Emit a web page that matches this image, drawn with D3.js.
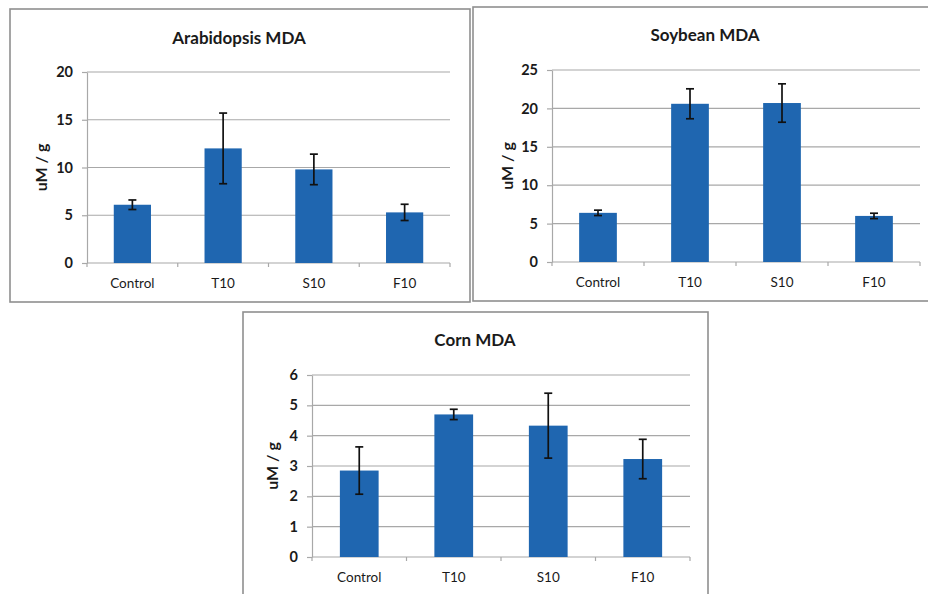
<!DOCTYPE html>
<html>
<head>
<meta charset="utf-8">
<script src="https://cdn.jsdelivr.net/npm/d3@7"></script>
<style>
  html, body { margin: 0; padding: 0; background: #fff; }
  svg { display: block; }
  text { font-family: Lato, "Open Sans", sans-serif; fill: #1a1a1a; }
</style>
</head>
<body>
<svg id="chart" width="928" height="594"></svg>
<script>
// Treatment groups shared by all three plants
const categories = ["Control", "T10", "S10", "F10"];

// MDA content (uM / g): means and error-bar half-widths
const arabidopsisMean = [6.1, 12.0, 9.8, 5.3];
const arabidopsisErr  = [0.5, 3.7, 1.6, 0.85];
const arabidopsisTicks = [0, 5, 10, 15, 20];

const soybeanMean = [6.4, 20.6, 20.7, 6.0];
const soybeanErr  = [0.35, 1.95, 2.5, 0.35];
const soybeanTicks = [0, 5, 10, 15, 20, 25];

const cornMean = [2.85, 4.70, 4.33, 3.23];
const cornErr  = [0.78, 0.17, 1.07, 0.65];
const cornTicks = [0, 1, 2, 3, 4, 5, 6];

const titles = ["Arabidopsis MDA", "Soybean MDA", "Corn MDA"];
const yLabel = "uM / g";

const barColor = "#1f66b0";
const gridColor = "#a8a8a8";
const frameColor = "#8f8f8f";

const svg = d3.select("#chart");

// One framed bar chart with error bars
function drawPanel(opts) {
  const g = svg.append("g");
  const f = opts.frame;

  g.append("rect")
    .attr("x", f.x).attr("y", f.y)
    .attr("width", f.w).attr("height", f.h)
    .attr("fill", "#fff")
    .attr("stroke", frameColor)
    .attr("stroke-width", 1.6);

  const p = opts.plot;
  const ticks = opts.ticks;
  const y = d3.scaleLinear()
    .domain([0, ticks[ticks.length - 1]])
    .range([p.bottom, p.top]);
  const x = d3.scaleBand()
    .domain(categories)
    .range([p.left, p.right])
    .padding(0);

  // horizontal gridlines
  g.append("g").selectAll("line")
    .data(ticks.slice(1))
    .join("line")
    .attr("x1", p.left).attr("x2", p.right)
    .attr("y1", d => y(d)).attr("y2", d => y(d))
    .attr("stroke", gridColor)
    .attr("stroke-width", 1.2);

  // y axis with tick labels
  const yAxis = g.append("g")
    .attr("transform", `translate(${p.left},0)`)
    .call(d3.axisLeft(y).tickValues(ticks).tickFormat(d3.format("d"))
      .tickSize(5).tickPadding(9).tickSizeOuter(0));
  yAxis.select(".domain").attr("stroke", gridColor).attr("stroke-width", 1.2);
  yAxis.selectAll(".tick line").attr("stroke", gridColor).attr("stroke-width", 1.2);
  yAxis.selectAll(".tick text")
    .attr("font-family", "Lato, 'Open Sans', sans-serif")
    .attr("font-size", 14.5)
    .attr("font-weight", "bold")
    .attr("fill", "#1a1a1a");

  // x axis line with tick marks at category boundaries
  g.append("line")
    .attr("x1", p.left).attr("x2", p.right)
    .attr("y1", y(0)).attr("y2", y(0))
    .attr("stroke", gridColor).attr("stroke-width", 1.2);
  const boundaries = categories.map(c => x(c)).concat([x(categories[categories.length - 1]) + x.bandwidth()]);
  g.append("g").selectAll("line")
    .data(boundaries)
    .join("line")
    .attr("x1", d => d).attr("x2", d => d)
    .attr("y1", y(0)).attr("y2", y(0) + 4)
    .attr("stroke", gridColor).attr("stroke-width", 1.2);

  // category labels
  g.append("g").selectAll("text")
    .data(categories)
    .join("text")
    .attr("x", d => x(d) + x.bandwidth() / 2)
    .attr("y", y(0) + 25)
    .attr("text-anchor", "middle")
    .attr("font-size", 13.5)
    .text(d => d);

  // bars
  const bw = x.bandwidth() * 0.41;
  const rows = categories.map((c, i) => ({ c, v: opts.mean[i], e: opts.err[i] }));
  g.append("g").selectAll("rect")
    .data(rows)
    .join("rect")
    .attr("x", d => x(d.c) + (x.bandwidth() - bw) / 2)
    .attr("y", d => y(d.v))
    .attr("width", bw)
    .attr("height", d => y(0) - y(d.v))
    .attr("fill", barColor);

  // error bars
  const eb = g.append("g").attr("stroke", "#111").attr("stroke-width", 1.7);
  rows.forEach(d => {
    const cx = x(d.c) + x.bandwidth() / 2;
    eb.append("line")
      .attr("x1", cx).attr("x2", cx)
      .attr("y1", y(d.v + d.e)).attr("y2", y(d.v - d.e));
    [d.v + d.e, d.v - d.e].forEach(v => {
      eb.append("line")
        .attr("x1", cx - 4).attr("x2", cx + 4)
        .attr("y1", y(v)).attr("y2", y(v));
    });
  });

  // title
  g.append("text")
    .attr("x", opts.titleX).attr("y", opts.titleY)
    .attr("text-anchor", "middle")
    .attr("font-size", 17)
    .attr("font-weight", "bold")
    .text(opts.title);

  // y axis title
  const ly = (p.top + p.bottom) / 2;
  g.append("text")
    .attr("transform", `translate(${opts.yLabelX},${ly}) rotate(-90)`)
    .attr("text-anchor", "middle")
    .attr("font-size", 16)
    .attr("font-weight", "bold")
    .text(yLabel);
}

drawPanel({
  frame: { x: 10, y: 9, w: 460, h: 293 },
  plot: { left: 87, right: 450, top: 72, bottom: 263 },
  ticks: arabidopsisTicks, mean: arabidopsisMean, err: arabidopsisErr,
  title: titles[0], titleX: 239, titleY: 44, yLabelX: 47
});

drawPanel({
  frame: { x: 473, y: 7, w: 460, h: 294 },
  plot: { left: 552, right: 920, top: 70, bottom: 262 },
  ticks: soybeanTicks, mean: soybeanMean, err: soybeanErr,
  title: titles[1], titleX: 705, titleY: 41, yLabelX: 513
});

drawPanel({
  frame: { x: 243, y: 312, w: 465, h: 300 },
  plot: { left: 312, right: 690, top: 375, bottom: 557 },
  ticks: cornTicks, mean: cornMean, err: cornErr,
  title: titles[2], titleX: 475, titleY: 346, yLabelX: 278
});
</script>
</body>
</html>
